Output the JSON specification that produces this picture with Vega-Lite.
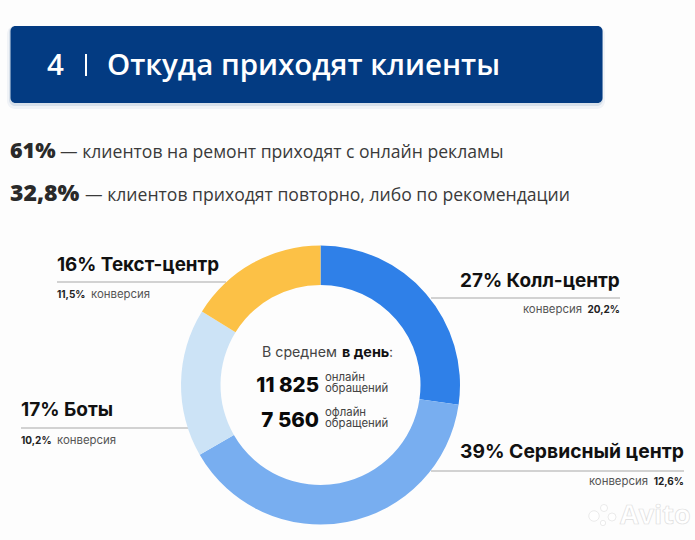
{"$schema":"https://vega.github.io/schema/vega-lite/v6.json","width":695,"height":540,"padding":0,"autosize":{"type":"fit","contains":"padding"},"background":"#FDFDFD","config":{"view":{"stroke":null},"text":{"font":"Inter","baseline":"alphabetic","align":"left"}},
"data":{"values":[{"channel":"Колл-центр","share":27,"conversion":"20,2%","rank":1},{"channel":"Сервисный центр","share":39,"conversion":"12,6%","rank":2},{"channel":"Боты","share":17,"conversion":"10,2%","rank":3},{"channel":"Текст-центр","share":16,"conversion":"11,5%","rank":4}]},
"layer":[
{"data":{"values":[{"k":1}]},"mark":{"type":"rect","color":"#033B82","opacity":0.05,"cornerRadius":8},"encoding":{"x":{"datum":7,"scale":{"domain":[0,695]},"axis":null},"x2":{"datum":605},"y":{"datum":26,"scale":{"domain":[540,0]},"axis":null},"y2":{"datum":109}}},
{"data":{"values":[{"k":1}]},"mark":{"type":"rect","color":"#033B82","opacity":0.1,"cornerRadius":6},"encoding":{"x":{"datum":9,"scale":{"domain":[0,695]},"axis":null},"x2":{"datum":603},"y":{"datum":26,"scale":{"domain":[540,0]},"axis":null},"y2":{"datum":106}}},
{"data":{"values":[{"k":1}]},"mark":{"type":"rect","color":"#033B82","cornerRadius":5},"encoding":{"x":{"datum":10.5,"scale":{"domain":[0,695]},"axis":null},"x2":{"datum":602.5},"y":{"datum":26,"scale":{"domain":[540,0]},"axis":null},"y2":{"datum":103}}},
{"data":{"values":[{"t":"4"}]},"mark":{"type":"text","font":"Open Sans","fontSize":29.5,"fontWeight":600,"color":"#FFFFFF"},"encoding":{"text":{"field":"t"},"x":{"datum":47,"scale":{"domain":[0,695]},"axis":null},"y":{"datum":75,"scale":{"domain":[540,0]},"axis":null}}},
{"data":{"values":[{"k":1}]},"mark":{"type":"rule","color":"#FFFFFF","strokeWidth":2},"encoding":{"x":{"datum":86,"scale":{"domain":[0,695]},"axis":null},"y":{"datum":54,"scale":{"domain":[540,0]},"axis":null},"y2":{"datum":76}}},
{"data":{"values":[{"t":"Откуда приходят клиенты"}]},"mark":{"type":"text","font":"Open Sans","fontSize":29.5,"fontWeight":600,"color":"#FFFFFF"},"encoding":{"text":{"field":"t"},"x":{"datum":107,"scale":{"domain":[0,695]},"axis":null},"y":{"datum":75,"scale":{"domain":[540,0]},"axis":null}}},
{"data":{"values":[{"t":"61%"}]},"mark":{"type":"text","font":"Open Sans","fontSize":21.5,"fontWeight":800,"color":"#2A2A2A"},"encoding":{"text":{"field":"t"},"x":{"datum":10,"scale":{"domain":[0,695]},"axis":null},"y":{"datum":158,"scale":{"domain":[540,0]},"axis":null}}},
{"data":{"values":[{"t":"— клиентов на ремонт приходят с онлайн рекламы"}]},"mark":{"type":"text","font":"Open Sans","fontSize":17.6,"color":"#3A3A3A"},"encoding":{"text":{"field":"t"},"x":{"datum":60,"scale":{"domain":[0,695]},"axis":null},"y":{"datum":158,"scale":{"domain":[540,0]},"axis":null}}},
{"data":{"values":[{"t":"32,8%"}]},"mark":{"type":"text","font":"Open Sans","fontSize":23,"fontWeight":800,"color":"#2A2A2A"},"encoding":{"text":{"field":"t"},"x":{"datum":10,"scale":{"domain":[0,695]},"axis":null},"y":{"datum":201,"scale":{"domain":[540,0]},"axis":null}}},
{"data":{"values":[{"t":"— клиентов приходят повторно, либо по рекомендации"}]},"mark":{"type":"text","font":"Open Sans","fontSize":17.6,"color":"#3A3A3A"},"encoding":{"text":{"field":"t"},"x":{"datum":85,"scale":{"domain":[0,695]},"axis":null},"y":{"datum":201,"scale":{"domain":[540,0]},"axis":null}}},
{"data":{"values":[{"k":1}]},"mark":{"type":"rule","color":"#A8A8A8","strokeWidth":1.2},"encoding":{"x":{"datum":57,"scale":{"domain":[0,695]},"axis":null},"x2":{"datum":226},"y":{"datum":282,"scale":{"domain":[540,0]},"axis":null}}},
{"data":{"values":[{"k":1}]},"mark":{"type":"rule","color":"#A8A8A8","strokeWidth":1.2},"encoding":{"x":{"datum":21,"scale":{"domain":[0,695]},"axis":null},"x2":{"datum":188},"y":{"datum":428,"scale":{"domain":[540,0]},"axis":null}}},
{"data":{"values":[{"k":1}]},"mark":{"type":"rule","color":"#A8A8A8","strokeWidth":1.2},"encoding":{"x":{"datum":431,"scale":{"domain":[0,695]},"axis":null},"x2":{"datum":620},"y":{"datum":298,"scale":{"domain":[540,0]},"axis":null}}},
{"data":{"values":[{"k":1}]},"mark":{"type":"rule","color":"#A8A8A8","strokeWidth":1.2},"encoding":{"x":{"datum":431,"scale":{"domain":[0,695]},"axis":null},"x2":{"datum":684},"y":{"datum":471,"scale":{"domain":[540,0]},"axis":null}}},
{"mark":{"type":"arc","radius":139.5,"radius2":100},"encoding":{"theta":{"field":"share","type":"quantitative","stack":true},"order":{"field":"rank","type":"ordinal"},"color":{"field":"channel","type":"nominal","legend":null,"scale":{"domain":["Колл-центр","Сервисный центр","Боты","Текст-центр"],"range":["#2F80E8","#78AEF0","#CCE3F6","#FCC146"]}},"x":{"datum":320.5,"scale":{"domain":[0,695]},"axis":null},"y":{"datum":385,"scale":{"domain":[540,0]},"axis":null}}},
{"transform":[{"filter":{"field":"channel","equal":"Текст-центр"}},{"calculate":"datum.share + '% ' + datum.channel","as":"head"}],"mark":{"type":"text","fontSize":18.8,"fontWeight":700,"color":"#111111"},"encoding":{"text":{"field":"head"},"x":{"datum":57,"scale":{"domain":[0,695]},"axis":null},"y":{"datum":271,"scale":{"domain":[540,0]},"axis":null}}},
{"transform":[{"filter":{"field":"channel","equal":"Боты"}},{"calculate":"datum.share + '% ' + datum.channel","as":"head"}],"mark":{"type":"text","fontSize":19,"fontWeight":700,"color":"#111111"},"encoding":{"text":{"field":"head"},"x":{"datum":21,"scale":{"domain":[0,695]},"axis":null},"y":{"datum":416,"scale":{"domain":[540,0]},"axis":null}}},
{"transform":[{"filter":{"field":"channel","equal":"Колл-центр"}},{"calculate":"datum.share + '% ' + datum.channel","as":"head"}],"mark":{"type":"text","fontSize":18.9,"fontWeight":700,"color":"#111111"},"encoding":{"text":{"field":"head"},"x":{"datum":460,"scale":{"domain":[0,695]},"axis":null},"y":{"datum":287,"scale":{"domain":[540,0]},"axis":null}}},
{"transform":[{"filter":{"field":"channel","equal":"Сервисный центр"}},{"calculate":"datum.share + '% ' + datum.channel","as":"head"}],"mark":{"type":"text","fontSize":19.3,"fontWeight":700,"color":"#111111"},"encoding":{"text":{"field":"head"},"x":{"datum":460,"scale":{"domain":[0,695]},"axis":null},"y":{"datum":458,"scale":{"domain":[540,0]},"axis":null}}},
{"transform":[{"filter":{"field":"channel","equal":"Текст-центр"}}],"mark":{"type":"text","fontSize":10,"fontWeight":700,"color":"#222222"},"encoding":{"text":{"field":"conversion"},"x":{"datum":57,"scale":{"domain":[0,695]},"axis":null},"y":{"datum":298,"scale":{"domain":[540,0]},"axis":null}}},
{"data":{"values":[{"t":"конверсия"}]},"mark":{"type":"text","fontSize":11.4,"color":"#555555"},"encoding":{"text":{"field":"t"},"x":{"datum":91,"scale":{"domain":[0,695]},"axis":null},"y":{"datum":298,"scale":{"domain":[540,0]},"axis":null}}},
{"transform":[{"filter":{"field":"channel","equal":"Боты"}}],"mark":{"type":"text","fontSize":10,"fontWeight":700,"color":"#222222"},"encoding":{"text":{"field":"conversion"},"x":{"datum":21,"scale":{"domain":[0,695]},"axis":null},"y":{"datum":444,"scale":{"domain":[540,0]},"axis":null}}},
{"data":{"values":[{"t":"конверсия"}]},"mark":{"type":"text","fontSize":11.4,"color":"#555555"},"encoding":{"text":{"field":"t"},"x":{"datum":57,"scale":{"domain":[0,695]},"axis":null},"y":{"datum":444,"scale":{"domain":[540,0]},"axis":null}}},
{"transform":[{"filter":{"field":"channel","equal":"Колл-центр"}}],"mark":{"type":"text","align":"right","fontSize":10,"fontWeight":700,"color":"#222222"},"encoding":{"text":{"field":"conversion"},"x":{"datum":620,"scale":{"domain":[0,695]},"axis":null},"y":{"datum":313,"scale":{"domain":[540,0]},"axis":null}}},
{"data":{"values":[{"t":"конверсия"}]},"mark":{"type":"text","align":"right","fontSize":11.4,"color":"#555555"},"encoding":{"text":{"field":"t"},"x":{"datum":582,"scale":{"domain":[0,695]},"axis":null},"y":{"datum":313,"scale":{"domain":[540,0]},"axis":null}}},
{"transform":[{"filter":{"field":"channel","equal":"Сервисный центр"}}],"mark":{"type":"text","align":"right","fontSize":10,"fontWeight":700,"color":"#222222"},"encoding":{"text":{"field":"conversion"},"x":{"datum":684,"scale":{"domain":[0,695]},"axis":null},"y":{"datum":485,"scale":{"domain":[540,0]},"axis":null}}},
{"data":{"values":[{"t":"конверсия"}]},"mark":{"type":"text","align":"right","fontSize":11.4,"color":"#555555"},"encoding":{"text":{"field":"t"},"x":{"datum":648,"scale":{"domain":[0,695]},"axis":null},"y":{"datum":485,"scale":{"domain":[540,0]},"axis":null}}},
{"data":{"values":[{"t":"В среднем"}]},"mark":{"type":"text","fontSize":14.2,"color":"#444444"},"encoding":{"text":{"field":"t"},"x":{"datum":262,"scale":{"domain":[0,695]},"axis":null},"y":{"datum":357,"scale":{"domain":[540,0]},"axis":null}}},
{"data":{"values":[{"t":"в день"}]},"mark":{"type":"text","fontSize":14.4,"fontWeight":700,"color":"#111111"},"encoding":{"text":{"field":"t"},"x":{"datum":342,"scale":{"domain":[0,695]},"axis":null},"y":{"datum":357,"scale":{"domain":[540,0]},"axis":null}}},
{"data":{"values":[{"t":":"}]},"mark":{"type":"text","fontSize":14,"color":"#444444"},"encoding":{"text":{"field":"t"},"x":{"datum":389,"scale":{"domain":[0,695]},"axis":null},"y":{"datum":357,"scale":{"domain":[540,0]},"axis":null}}},
{"data":{"values":[{"t":"11 825"}]},"mark":{"type":"text","align":"right","fontSize":20.5,"fontWeight":800,"color":"#0A0A0A"},"encoding":{"text":{"field":"t"},"x":{"datum":319,"scale":{"domain":[0,695]},"axis":null},"y":{"datum":392,"scale":{"domain":[540,0]},"axis":null}}},
{"data":{"values":[{"t":"7 560"}]},"mark":{"type":"text","align":"right","fontSize":20.5,"fontWeight":800,"color":"#0A0A0A"},"encoding":{"text":{"field":"t"},"x":{"datum":319,"scale":{"domain":[0,695]},"axis":null},"y":{"datum":427,"scale":{"domain":[540,0]},"axis":null}}},
{"data":{"values":[{"t":"онлайн"}]},"mark":{"type":"text","fontSize":11.4,"color":"#444444"},"encoding":{"text":{"field":"t"},"x":{"datum":325,"scale":{"domain":[0,695]},"axis":null},"y":{"datum":381,"scale":{"domain":[540,0]},"axis":null}}},
{"data":{"values":[{"t":"обращений"}]},"mark":{"type":"text","fontSize":11.4,"color":"#444444"},"encoding":{"text":{"field":"t"},"x":{"datum":325,"scale":{"domain":[0,695]},"axis":null},"y":{"datum":392,"scale":{"domain":[540,0]},"axis":null}}},
{"data":{"values":[{"t":"офлайн"}]},"mark":{"type":"text","fontSize":11.4,"color":"#444444"},"encoding":{"text":{"field":"t"},"x":{"datum":325,"scale":{"domain":[0,695]},"axis":null},"y":{"datum":416,"scale":{"domain":[540,0]},"axis":null}}},
{"data":{"values":[{"t":"обращений"}]},"mark":{"type":"text","fontSize":11.4,"color":"#444444"},"encoding":{"text":{"field":"t"},"x":{"datum":325,"scale":{"domain":[0,695]},"axis":null},"y":{"datum":427,"scale":{"domain":[540,0]},"axis":null}}},
{"data":{"values":[{"k":1}]},"mark":{"type":"point","filled":true,"color":"#FFFFFF","stroke":"#DDDDDD","strokeWidth":0.6,"opacity":1,"size":110},"encoding":{"x":{"datum":594,"scale":{"domain":[0,695]},"axis":null},"y":{"datum":516,"scale":{"domain":[540,0]},"axis":null}}},
{"data":{"values":[{"k":1}]},"mark":{"type":"point","filled":true,"color":"#FFFFFF","stroke":"#DDDDDD","strokeWidth":0.6,"opacity":1,"size":50},"encoding":{"x":{"datum":604,"scale":{"domain":[0,695]},"axis":null},"y":{"datum":508,"scale":{"domain":[540,0]},"axis":null}}},
{"data":{"values":[{"k":1}]},"mark":{"type":"point","filled":true,"color":"#FFFFFF","stroke":"#DDDDDD","strokeWidth":0.6,"opacity":1,"size":64},"encoding":{"x":{"datum":612,"scale":{"domain":[0,695]},"axis":null},"y":{"datum":517,"scale":{"domain":[540,0]},"axis":null}}},
{"data":{"values":[{"k":1}]},"mark":{"type":"point","filled":true,"color":"#FFFFFF","stroke":"#DDDDDD","strokeWidth":0.6,"opacity":1,"size":28},"encoding":{"x":{"datum":603,"scale":{"domain":[0,695]},"axis":null},"y":{"datum":523,"scale":{"domain":[540,0]},"axis":null}}},
{"data":{"values":[{"t":"Avito"}]},"mark":{"type":"text","font":"Open Sans","fontSize":27,"fontWeight":700,"color":"#FFFFFF","stroke":"#DDDDDD","strokeWidth":0.7},"encoding":{"text":{"field":"t"},"x":{"datum":620,"scale":{"domain":[0,695]},"axis":null},"y":{"datum":524,"scale":{"domain":[540,0]},"axis":null}}}
]}
